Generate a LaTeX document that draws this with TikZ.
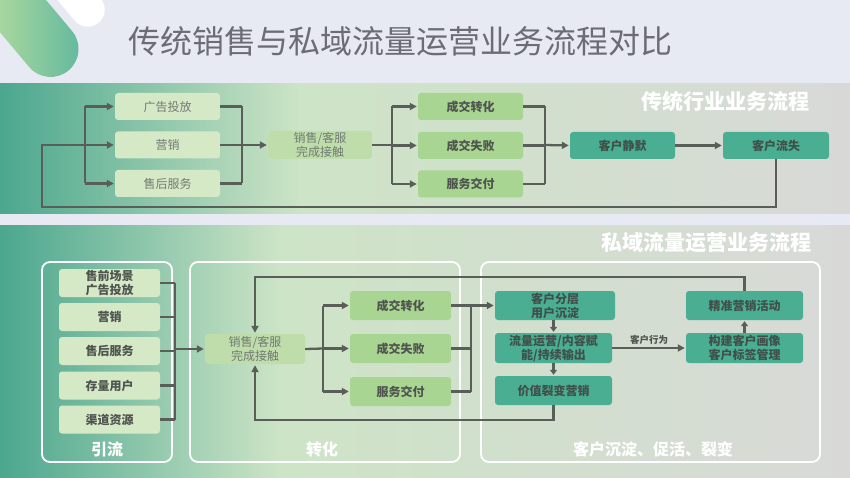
\documentclass[tikz,border=0pt]{standalone}
\usepackage{fontspec}
\setmainfont{Noto Sans CJK SC}
\usetikzlibrary{arrows.meta, positioning}
\definecolor{pagebg}{HTML}{E8EAF3}
\definecolor{bandteal}{HTML}{4BA78E}
\definecolor{bandlight}{HTML}{CDE4C6}
\definecolor{bandgray}{HTML}{D8D9D7}
\definecolor{boxlight}{HTML}{D6E9C7}
\definecolor{boxmid}{HTML}{BFDDAB}
\definecolor{boxgreen}{HTML}{A9D592}
\definecolor{boxteal}{HTML}{4AAE93}
\definecolor{linegray}{HTML}{595E59}
\definecolor{txtgray}{HTML}{727A72}
\definecolor{txtdark}{HTML}{4F544F}
\definecolor{txtteal}{HTML}{3F504A}
\definecolor{titlegray}{HTML}{6B6C74}
\tikzset{%
	box/.style={
		rounded corners=3pt,
		minimum width=105pt,
		minimum height=27pt,
		inner sep=0pt,
		align=center,
		font=\fontsize{12}{14}\selectfont
	},
	light box/.style={box, fill=boxlight, text=txtgray},
	lead box/.style={box, fill=boxlight, text=txtdark, font=\fontsize{12}{14}\selectfont\bfseries},
	touch box/.style={box, fill=boxmid, text=txtgray},
	deal box/.style={box, fill=boxgreen, text=txtdark, font=\fontsize{12}{14}\selectfont\bfseries},
	keep box/.style={box, fill=boxteal, text=txtteal, font=\fontsize{12}{14}\selectfont\bfseries},
	frame/.style={draw=white, line width=1.8pt, rounded corners=8pt},
	band title/.style={text=white, font=\fontsize{21}{24}\selectfont\bfseries},
	frame title/.style={text=white, font=\fontsize{16}{18}\selectfont\bfseries},
}

\begin{document}
\begin{tikzpicture}[
		x=1pt, y=-1pt,
		flow/.style={draw=linegray, line width=2.3pt},
		arrow/.style={flow, -{Triangle[length=7pt,width=7pt]}, shorten >=1pt}
	]
	% page and bands
	\fill[pagebg] (0,0) rectangle (850,478);
	\useasboundingbox (0,0) rectangle (850,478);
	\node[rotate=-50, minimum width=176pt, minimum height=56pt, rounded corners=28pt,
		left color=boxlight!80!yellow, right color=boxteal!90!white] (deco) at (12,3) {};
	\node[rotate=-50, minimum width=114pt, minimum height=34pt, rounded corners=17pt,
		fill=white] (decow) at (62,-21) {};
	\node[text=titlegray, font=\fontsize{32}{38}\selectfont] (title) at (400,41) {传统销售与私域流量运营业务流程对比};

	\shade[left color=bandteal, right color=bandlight] (0,84) rectangle (300,214);
	\shade[left color=bandlight, right color=bandgray] (300,84) rectangle (850,214);
	\shade[left color=bandteal, right color=bandlight] (0,225) rectangle (280,478);
	\shade[left color=bandlight, right color=bandgray] (280,225) rectangle (850,478);

	% traditional flow
	\node[band title] (ttl1) at (725,102) {传统行业业务流程};
	\node[light box] (ad1) at (167.5,106.5) {广告投放};
	\node[light box] (mk1) at (167.5,145) {营销};
	\node[light box] (as1) at (167.5,183.5) {售后服务};
	\node[touch box, minimum width=104pt, minimum height=28pt] (ct1) at (320,145) {销售/客服\\完成接触};
	\node[deal box] (dl1) at (470.5,106.5) {成交转化};
	\node[deal box] (fl1) at (470.5,145.5) {成交失败};
	\node[deal box] (sv1) at (470.5,184) {服务交付};
	\node[keep box] (sl1) at (622.5,145.5) {客户静默};
	\node[keep box, minimum width=106pt] (ls1) at (776,145.5) {客户流失};

	\coordinate (ta) at (85,145);
	\coordinate (tb) at (242,145);
	\coordinate (tc) at (392,145);
	\coordinate (td) at (545,145);
	\coordinate (tloop) at (42,207);

	\draw[flow] (ad1.west -| ta) -- (as1.west -| ta);
	\foreach \n in {ad1, as1} \draw[arrow] (\n.west -| ta) -- (\n.west);
	\draw[arrow] (ls1.south) |- (tloop) |- (mk1.west);
	\foreach \n in {ad1, mk1, as1} \draw[flow] (\n.east) -- (\n.east -| tb);
	\draw[flow] (ad1.east -| tb) -- (as1.east -| tb);
	\draw[arrow] (tb) -- (ct1.west);
	\draw[flow] (ct1.east) -- (tc);
	\draw[flow] (dl1.west -| tc) -- (sv1.west -| tc);
	\foreach \n in {dl1, fl1, sv1} \draw[arrow] (\n.west -| tc) -- (\n.west);
	\foreach \n in {dl1, fl1, sv1} \draw[flow] (\n.east) -- (\n.east -| td);
	\draw[flow] (dl1.east -| td) -- (sv1.east -| td);
	\draw[arrow] (td) -- (sl1.west);
	\draw[arrow] (sl1.east) -- (ls1.west);

	% private traffic flow
	\node[band title] (ttl2) at (706,243) {私域流量运营业务流程};
	\draw[frame] (42,262) rectangle (172,462);
	\draw[frame] (190,262) rectangle (460,462);
	\draw[frame] (481,262) rectangle (820,462);
	\node[frame title] (ft1) at (107,449) {引流};
	\node[frame title] (ft2) at (322,449) {转化};
	\node[frame title] (ft3) at (653,449) {客户沉淀、促活、裂变};

	\node[lead box, minimum width=101pt, minimum height=28pt] (pre) at (109.5,283) {售前场景\\广告投放};
	\node[lead box, minimum width=101pt, minimum height=28pt] (mk2) at (109.5,317) {营销};
	\node[lead box, minimum width=101pt, minimum height=28pt] (as2) at (109.5,351) {售后服务};
	\node[lead box, minimum width=101pt, minimum height=28pt] (st) at (109.5,385.5) {存量用户};
	\node[lead box, minimum width=101pt, minimum height=28pt] (ch) at (109.5,419.5) {渠道资源};
	\node[touch box, minimum width=100pt, minimum height=30pt] (ct2) at (255,349) {销售/客服\\完成接触};
	\node[deal box, minimum width=101pt, minimum height=29pt] (dl2) at (400.5,305.5) {成交转化};
	\node[deal box, minimum width=101pt, minimum height=29pt] (fl2) at (400.5,348.5) {成交失败};
	\node[deal box, minimum width=101pt, minimum height=29pt] (sv2) at (400.5,391.5) {服务交付};
	\node[keep box, minimum width=120pt, minimum height=29pt] (sg) at (555,305.5) {客户分层\\用户沉淀};
	\node[keep box, minimum width=117pt, minimum height=30pt] (ops) at (553.5,348) {流量运营/内容赋\\能/持续输出};
	\node[keep box, minimum width=117pt, minimum height=29pt] (fis) at (553.5,390.5) {价值裂变营销};
	\node[keep box, minimum width=117pt, minimum height=29pt] (pm) at (744.5,305.5) {精准营销活动};
	\node[keep box, minimum width=117pt, minimum height=30pt] (prf) at (744.5,348) {构建客户画像\\客户标签管理};

	\coordinate (ba) at (175,349);
	\coordinate (bb) at (323,348.5);
	\coordinate (bc) at (471,348.5);
	\coordinate (btop) at (255,277);
	\coordinate (bbot) at (255,420);

	\foreach \n in {pre, mk2, as2, st, ch} \draw[flow] (\n.east) -- (\n.east -| ba);
	\draw[flow] (pre.east -| ba) -- (ch.east -| ba);
	\draw[arrow] (ba) -- (ct2.west);
	\draw[flow] (ct2.east) -- (bb);
	\draw[flow] (dl2.west -| bb) -- (sv2.west -| bb);
	\foreach \n in {dl2, fl2, sv2} \draw[arrow] (\n.west -| bb) -- (\n.west);
	\foreach \n in {dl2, fl2, sv2} \draw[flow] (\n.east) -- (\n.east -| bc);
	\draw[flow] (dl2.east -| bc) -- (sv2.east -| bc);
	\draw[arrow] (dl2.east -| bc) -- (sg.west);
	\draw[arrow, -{Triangle[length=5pt,width=7pt]}] (sg.south -| ops.south) -- (ops.north);
	\draw[arrow, -{Triangle[length=5pt,width=7pt]}] (ops.south) -- (fis.north);
	\draw[arrow, -{Triangle[length=5pt,width=7pt]}] (prf.north) -- (pm.south);
	\draw[arrow] (ops.east) -- node[above=-1pt, text=txtdark, font=\fontsize{9.5}{11}\selectfont\bfseries] (bhv) {客户行为} (prf.west);
	\draw[arrow] (pm.north) |- (btop) -- (ct2.north);
	\draw[arrow] (fis.south) |- (bbot) -- (ct2.south);
\end{tikzpicture}
\end{document}
